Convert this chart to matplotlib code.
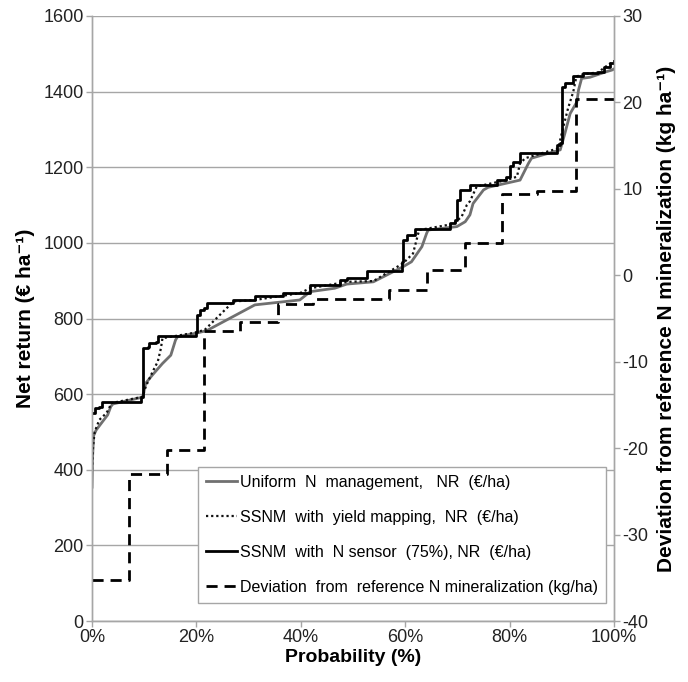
import matplotlib
matplotlib.use("Agg")
import matplotlib.pyplot as plt
from matplotlib.ticker import FuncFormatter

plt.rcParams['font.family'] = ['Liberation Sans', 'DejaVu Sans']
plt.rcParams['axes.unicode_minus'] = False

# probability (%) and net return (EUR/ha)
prob_uni = [0, 0.1, 0.3, 0.8, 2.0, 3.0, 3.6, 4.0, 9.7, 10.3, 11.6, 13.5, 15.1, 16.0, 16.4,
            19.9, 22.0, 31.2, 39.8, 41.8, 46.5, 48.8, 53.9, 59.6, 61.2, 63.2, 64.1, 64.4,
            69.9, 71.5, 72.4, 73.0, 75.0, 75.9, 82.0, 83.6, 84.2, 89.7, 90.6, 91.6, 92.9,
            93.2, 93.8, 95.4, 98.6, 99.6, 100]
nr_uni = [354, 430, 490, 505, 527, 545, 567, 574, 592, 629, 651, 681, 703, 743, 752,
          761, 768, 836, 849, 871, 880, 891, 897, 937, 950, 990, 1025, 1034,
          1043, 1056, 1074, 1104, 1140, 1147, 1166, 1210, 1224, 1246, 1290, 1342, 1373,
          1404, 1435, 1438, 1453, 1457, 1460]

prob_ym = [0, 0.2, 0.5, 1.4, 2.7, 3.3, 3.6, 9.7, 10.3, 11.6, 12.6, 13.2, 13.5, 19.5,
           21.6, 27.1, 31.2, 39.8, 41.8, 48.8, 53.9, 59.6, 61.5, 62.5, 62.7, 69.2, 70.8,
           71.8, 72.4, 73.7, 79.4, 81.4, 82.0, 83.0, 89.3, 90.3, 91.2, 92.2, 92.8, 94.1,
           97.0, 98.0, 99.2, 100]
nr_ym = [400, 460, 500, 532, 549, 562, 576, 593, 620, 659, 686, 721, 748, 762,
         770, 845, 849, 867, 880, 897, 899, 946, 972, 1025, 1034, 1050, 1069,
         1100, 1110, 1149, 1166, 1175, 1210, 1224, 1250, 1307, 1356, 1400, 1440, 1446,
         1451, 1462, 1474, 1476]

prob_sens = [0, 0.6, 1.4, 1.9, 9.4, 9.7, 10.7, 11.0, 12.3, 12.6, 19.9, 20.2, 20.6, 21.5,
             22.0, 27.0, 31.2, 36.6, 41.8, 47.5, 48.8, 52.6, 59.3, 59.6, 60.3, 61.9, 68.6,
             69.5, 69.9, 70.5, 72.4, 77.5, 79.4, 80.1, 80.7, 82.0, 89.0, 89.7, 90.0, 90.6,
             92.2, 94.1, 97.0, 98.0, 99.2, 100]
nr_sens = [550, 563, 567, 580, 593, 722, 725, 736, 739, 754, 765, 809, 822, 829,
           840, 849, 860, 867, 889, 902, 906, 926, 950, 1008, 1021, 1036, 1052,
           1060, 1113, 1140, 1153, 1166, 1175, 1202, 1215, 1237, 1259, 1265, 1413, 1424,
           1441, 1448, 1453, 1464, 1477, 1480]

# deviation from reference N mineralization (kg/ha), step function
prob_dev = [0, 7.1, 14.3, 21.5, 28.4, 35.6, 42.4, 56.9, 64.2, 71.5, 78.5, 85.2, 92.8, 100]
dev = [-35.3, -23.0, -20.2, -6.5, -5.4, -3.3, -2.7, -1.7, 0.6, 3.7, 9.4, 9.7, 20.4, 20.4]

labels = ["Uniform  N  management,   NR  (€/ha)",
          "SSNM  with  yield mapping,  NR  (€/ha)",
          "SSNM  with  N sensor  (75%), NR  (€/ha)",
          "Deviation  from  reference N mineralization (kg/ha)"]

fig = plt.figure(figsize=(6.88, 6.82), dpi=100)
ax = fig.add_axes([92/688, 61/682, 522/688, 605/682])
ax2 = ax.twinx()

grey = '#a6a6a6'
l1, = ax.plot(prob_uni, nr_uni, color='#707070', lw=2.0, zorder=3)
l2, = ax.plot(prob_ym, nr_ym, color='#111111', lw=1.6, ls=(0, (1, 1.3)), zorder=4)
l3, = ax.plot(prob_sens, nr_sens, color='#000000', lw=2.0, drawstyle='steps-post', zorder=5)
l4, = ax2.plot(prob_dev, dev, color='#000000', lw=2.0, ls=(0, (4, 2.5)), drawstyle='steps-post')

ax.set_xlim(0, 100)
ax.set_ylim(0, 1600)
ax.set_yticks(range(0, 1601, 200))
ax.set_xticks(range(0, 101, 20))
ax.xaxis.set_major_formatter(FuncFormatter(lambda v, p: f"{int(v)}%"))
ax2.set_ylim(-40, 30)
ax2.set_yticks(range(-40, 31, 10))

ax.grid(axis='y', color=grey, lw=1.0)
ax.set_axisbelow(True)
for a in (ax, ax2):
    a.spines['top'].set_visible(False)
    for s in ('left', 'right', 'bottom'):
        a.spines[s].set_color(grey)
        a.spines[s].set_linewidth(1.0)
    a.tick_params(colors=grey, labelcolor='#222222', labelsize=13, length=4, width=1, pad=2)

ax.set_ylabel("Net return (€ ha⁻¹)", fontsize=15, fontweight='bold', labelpad=6)
ax.set_xlabel("Probability (%)", fontsize=14, fontweight='bold', labelpad=2)
ax2.set_ylabel("Deviation from reference N mineralization (kg ha⁻¹)", fontsize=15,
               fontweight='bold', labelpad=6)

leg = ax2.legend([l1, l2, l3, l4], labels, loc='upper left',
                 bbox_to_anchor=(198/688, (682-467)/682), bbox_transform=fig.transFigure,
                 fontsize=11.5, fancybox=False, framealpha=1, edgecolor=grey,
                 handlelength=1.95, handletextpad=0.15, labelspacing=1.25,
                 borderpad=0.5, borderaxespad=0)
leg.get_frame().set_linewidth(1.0)

fig.savefig("out.png", dpi=100)
